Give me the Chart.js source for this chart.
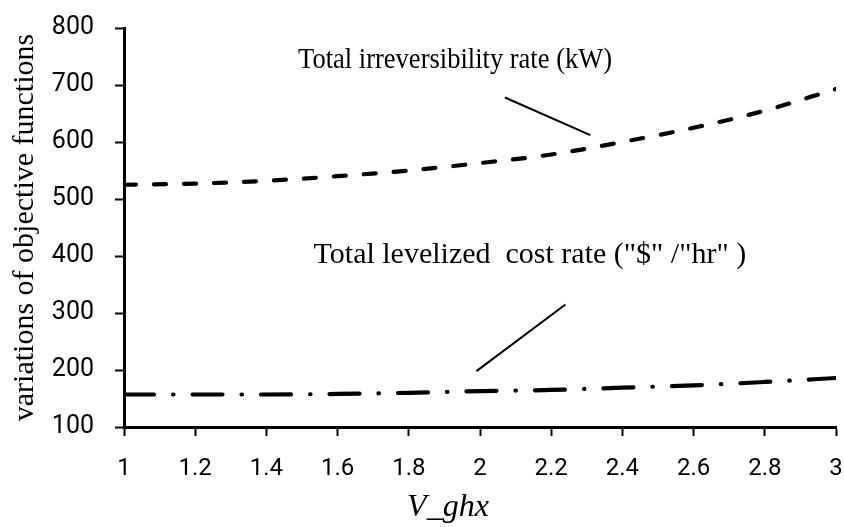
<!DOCTYPE html>
<html>
<head>
<meta charset="utf-8">
<script src="https://cdn.jsdelivr.net/npm/chart.js@4/dist/chart.umd.min.js"></script>
<style>
  html, body { margin: 0; padding: 0; background: #fff; }
  #wrap { width: 844px; height: 527px; position: relative; }
</style>
</head>
<body>
<div id="wrap"><canvas id="c" width="844" height="527"></canvas></div>
<script>
// ---- data ----
const vGhx = [1, 1.2, 1.4, 1.6, 1.8, 2, 2.2, 2.4, 2.6, 2.8, 3];
const irreversibility = [525, 527, 532, 540, 550, 563, 578, 600, 625, 655, 693];
const levelizedCost = [157, 157, 157, 158, 160, 163, 165, 169, 173, 179, 186];
const xTickLabels = ['1', '1.2', '1.4', '1.6', '1.8', '2', '2.2', '2.4', '2.6', '2.8', '3'];
const yTickLabels = ['100', '200', '300', '400', '500', '600', '700', '800'];
const seriesNames = ['Total irreversibility rate (kW)', 'Total levelized  cost rate ("$" /"hr" )'];
const xTitle = 'V_ghx';
const yTitle = 'variations of objective functions';

// annotation placement in data units (text centre and leader line ends)
const annotations = [
  { text: seriesNames[0], x: 1.93, y: 743, maxW: 314, lx1: 2.07, ly1: 678, lx2: 2.31, ly2: 612 },
  { text: seriesNames[1], x: 2.14, y: 402, maxW: 438, lx1: 2.24, ly1: 315, lx2: 1.99, ly2: 198 }
];
const xTitlePos = 1.91;

const annotationPlugin = {
  id: 'calloutText',
  afterDatasetsDraw(chart) {
    const { ctx, scales: { x, y } } = chart;
    ctx.save();
    ctx.fillStyle = '#000';
    ctx.strokeStyle = '#000';
    ctx.font = '30px "Liberation Serif", "Times New Roman", serif';
    ctx.textAlign = 'center';
    ctx.textBaseline = 'middle';
    annotations.forEach(a => {
      ctx.fillText(a.text, x.getPixelForValue(a.x), y.getPixelForValue(a.y), a.maxW);
      ctx.lineWidth = 2;
      ctx.beginPath();
      ctx.moveTo(x.getPixelForValue(a.lx1), y.getPixelForValue(a.ly1));
      ctx.lineTo(x.getPixelForValue(a.lx2), y.getPixelForValue(a.ly2));
      ctx.stroke();
    });
    // x-axis title
    ctx.font = 'italic 32px "Liberation Serif", "Times New Roman", serif';
    ctx.fillText(xTitle, x.getPixelForValue(xTitlePos), x.bottom - 19);
    ctx.restore();
  }
};

new Chart(document.getElementById('c'), {
  type: 'line',
  data: {
    datasets: [
      {
        label: seriesNames[0],
        data: vGhx.map((v, i) => ({ x: v, y: irreversibility[i] })),
        borderColor: '#000',
        borderWidth: 4.2,
        borderDash: [12, 18],
        borderCapStyle: 'round',
        pointRadius: 0,
        tension: 0.4,
        cubicInterpolationMode: 'monotone',
        fill: false
      },
      {
        label: seriesNames[1],
        data: vGhx.map((v, i) => ({ x: v, y: levelizedCost[i] })),
        borderColor: '#000',
        borderWidth: 4.2,
        borderDash: [30, 19, 0.5, 19],
        borderCapStyle: 'round',
        pointRadius: 0,
        tension: 0.4,
        cubicInterpolationMode: 'monotone',
        fill: false
      }
    ]
  },
  options: {
    responsive: false,
    animation: false,
    devicePixelRatio: 1,
    layout: { padding: { left: 0, top: 28, right: 8, bottom: 0 } },
    plugins: { legend: { display: false }, tooltip: { enabled: false } },
    scales: {
      x: {
        type: 'linear',
        min: 1, max: 3,
        afterFit(s) { s.height = 100; s.paddingRight = 0; s.paddingLeft = 0; },
        afterBuildTicks(s) { s.ticks = vGhx.map(v => ({ value: v })); },
        border: { display: true, color: '#000', width: 3 },
        grid: { display: true, drawOnChartArea: false, drawTicks: true, tickLength: 9, tickWidth: 2, tickColor: '#000' },
        ticks: {
          color: '#000',
          padding: 19,
          maxRotation: 0,
          autoSkip: false,
          font: { family: 'Roboto', size: 24 },
          callback: (v, i) => xTickLabels[i]
        },
        title: { display: false, text: xTitle }
      },
      y: {
        type: 'linear',
        min: 100, max: 800,
        afterFit(s) { s.width = 124; s.paddingTop = 0; s.paddingBottom = 0; },
        afterBuildTicks(s) { s.ticks = yTickLabels.map(t => ({ value: Number(t) })); },
        border: { display: true, color: '#000', width: 3 },
        grid: { display: true, drawOnChartArea: false, drawTicks: true, tickLength: 9, tickWidth: 2, tickColor: '#000' },
        ticks: {
          color: '#000',
          padding: 21,
          autoSkip: false,
          font: { family: 'Roboto', size: 25 },
          callback: (v, i) => yTickLabels[i]
        },
        title: {
          display: true,
          text: yTitle,
          color: '#000',
          font: { family: '"Liberation Serif", serif', size: 30 },
          padding: { top: 7, bottom: 0 }
        }
      }
    }
  },
  plugins: [annotationPlugin]
});
</script>
</body>
</html>
